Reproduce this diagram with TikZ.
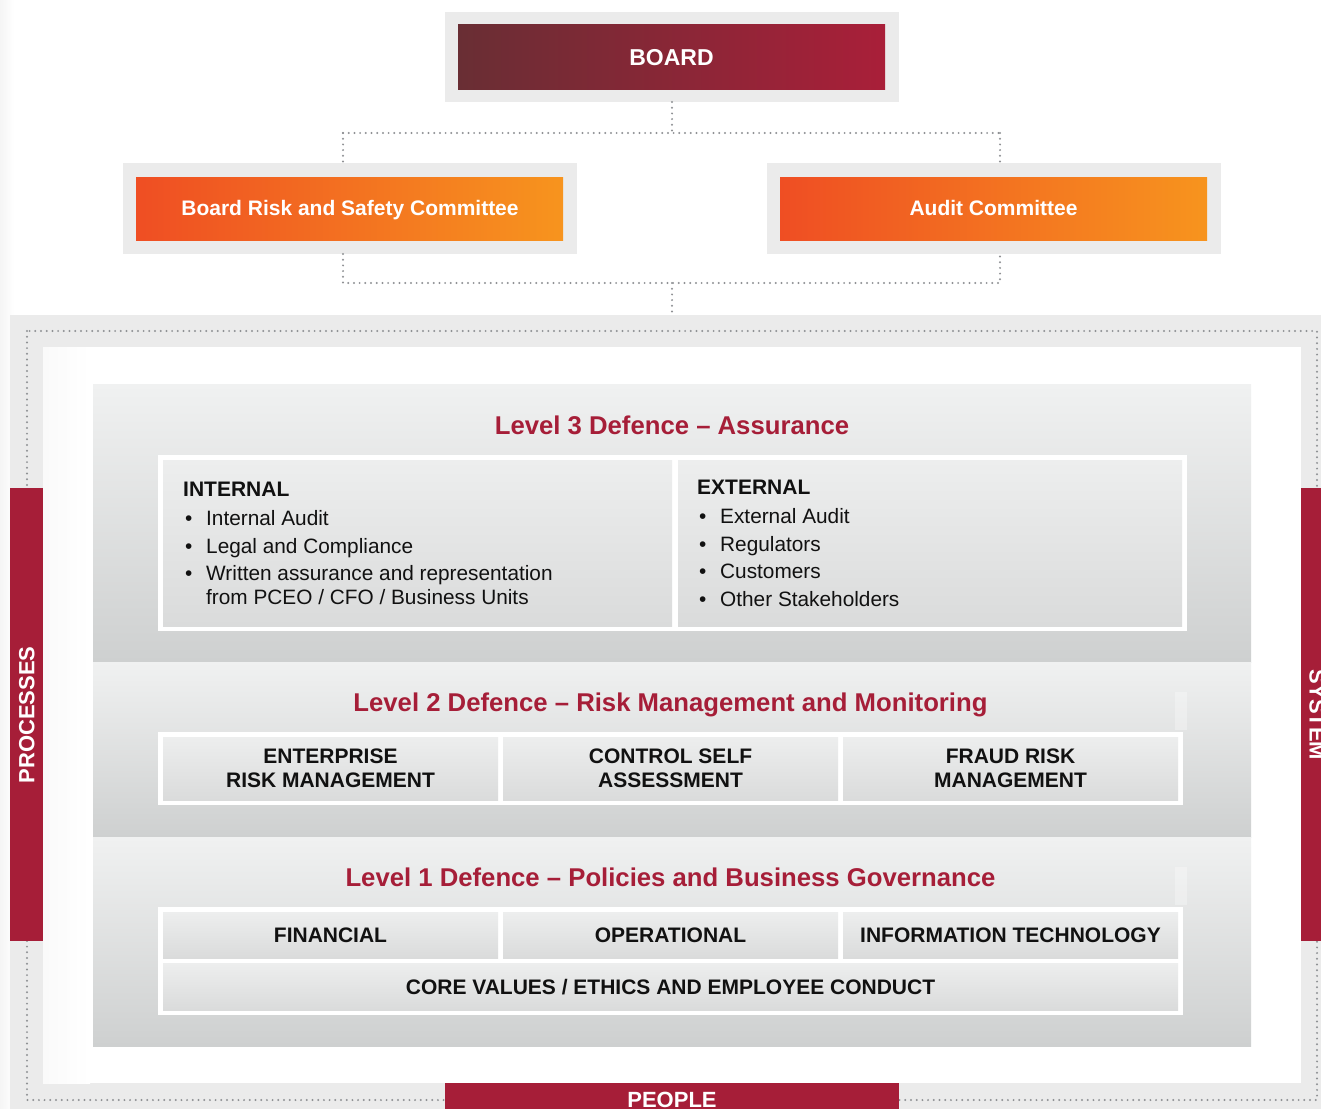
\documentclass[tikz,border=0pt]{standalone}
\usepackage{fontspec}
\setmainfont{Liberation Sans}
\definecolor{frameg}{HTML}{EBEBEB}
\definecolor{dotc}{HTML}{8F9194}
\definecolor{crim}{HTML}{A61E38}
\definecolor{bdark}{HTML}{692E34}
\definecolor{bred}{HTML}{A91F39}
\definecolor{oleft}{HTML}{EF4E23}
\definecolor{oright}{HTML}{F7941E}
\definecolor{ptop}{HTML}{F0F1F1}
\definecolor{pbot}{HTML}{CED0D0}
\definecolor{ctop}{HTML}{EDEEEE}
\definecolor{cbot}{HTML}{DADBDB}
\definecolor{txt}{HTML}{111111}
\newcommand\bul[1]{\makebox[23pt][l]{\hspace{2pt}\textbullet}#1}
\newcommand\nobul[1]{\hspace*{23pt}#1}
\begin{document}
\begin{tikzpicture}[x=1pt,y=-1pt,
  rbox/.style={rectangle, inner sep=0pt, outer sep=0pt, draw=none},
  dots/.style={draw=dotc, line width=2.2pt, dash pattern=on 0pt off 5.7pt, line cap=round},
  ttl/.style={text=crim, font=\fontsize{25.7}{30}\selectfont\bfseries, anchor=base, inner sep=0pt},
  hdr/.style={text=txt, font=\fontsize{21}{24}\selectfont\bfseries, anchor=base, inner sep=0pt},
  hdrw/.style={text=txt, font=\fontsize{21}{24}\selectfont\bfseries, anchor=base west, inner sep=0pt},
  body/.style={text=txt, font=\fontsize{20.8}{24}\selectfont, anchor=base west, inner sep=0pt},
  wtxt/.style={text=white, font=\fontsize{21}{24}\selectfont\bfseries, anchor=base, inner sep=0pt},
  cell/.style={rbox, top color=ctop, bottom color=cbot},
  panel/.style={rbox, top color=ptop, bottom color=pbot},
  redbar/.style={rbox, fill=crim}
]
\useasboundingbox (0,0) rectangle (1321,1108);
\clip (0,0) rectangle (1321,1108);
\fill[white] (0,0) rectangle (1321,1108);
\shade[left color=black!4, right color=white] (0,0) rectangle (14,1108);

% ---------- top boxes ----------
\node[rbox, fill=frameg, minimum width=454pt, minimum height=90pt] (boardbg) at (672,57) {};
\node[rbox, left color=bdark, right color=bred, minimum width=427pt, minimum height=64pt] (board) at (671.5,57) {};
\node[wtxt, font=\fontsize{23}{26}\selectfont\bfseries] (boardt) at (671.5,66) {BOARD};

\node[rbox, fill=frameg, minimum width=454pt, minimum height=91pt] (brsbg) at (350,208.5) {};
\node[rbox, left color=oleft, right color=oright, minimum width=427pt, minimum height=63pt] (brs) at (349.5,208.5) {};
\node[wtxt] (brst) at (350,215.5) {Board Risk and Safety Committee};

\node[rbox, fill=frameg, minimum width=454pt, minimum height=91pt] (acbg) at (994,208.5) {};
\node[rbox, left color=oleft, right color=oright, minimum width=427pt, minimum height=63pt] (ac) at (993.5,208.5) {};
\node[wtxt] (act) at (993.5,215.5) {Audit Committee};

% ---------- big frame ----------
\node[rbox, fill=frameg, minimum width=1330pt, minimum height=805pt] (frame) at (675,717.5) {};
\node[rbox, fill=white, minimum width=1258pt, minimum height=736pt] (inner) at (672,715) {};
\shade[left color=black!2, right color=white] (43,347) rectangle (90,1083);

% ---------- connectors ----------
\coordinate (jt) at (672,133);
\coordinate (jtl) at (343,133);
\coordinate (jtr) at (1000,133);
\coordinate (jb) at (672,283);
\coordinate (jbl) at (343,283);
\coordinate (jbr) at (1000,283);
\draw[dots] (boardbg.south) -- (jt);
\draw[dots] (jtl) -- (jtr);
\draw[dots] (jtl) -- (jtl |- brsbg.north);
\draw[dots] (jtr) -- (jtr |- acbg.north);
\draw[dots] (jbl |- brsbg.south) -- (jbl) -- (jbr) -- (jbr |- acbg.south);
\draw[dots] (jb) -- (jb |- frame.north);

\draw[dots] (27,331) rectangle (1317,1100);

% ---------- side bars ----------
\node[redbar, minimum width=33pt, minimum height=453pt] (procbar) at (26.5,714.5) {};
\node[redbar, minimum width=33pt, minimum height=453pt] (sysbar) at (1317.5,714.5) {};
\node[redbar, minimum width=454pt, minimum height=33pt] (peopbar) at (672,1099.5) {};
\node[wtxt, font=\fontsize{22}{24}\selectfont\bfseries, rotate=90] (proct) at (34.4,715) {PROCESSES};
\node[wtxt, font=\fontsize{22}{24}\selectfont\bfseries, rotate=-90] (syst) at (1309.6,715) {SYSTEM};
\node[wtxt, font=\fontsize{22}{24}\selectfont\bfseries] (peopt) at (672,1107.4) {PEOPLE};

% ---------- level panels ----------
\node[panel, minimum width=1158pt, minimum height=278pt] (l3) at (672,523) {};
\node[panel, minimum width=1158pt, minimum height=175pt] (l2) at (672,749.5) {};
\node[panel, minimum width=1158pt, minimum height=209pt] (l1) at (672,941.5) {};
\fill[white, opacity=0.3] (1175,692) rectangle (1187,730);
\fill[white, opacity=0.3] (1175,867) rectangle (1187,905);

\node[ttl] (l3t) at (672,434) {Level 3 Defence -- Assurance};
\node[ttl] (l2t) at (670.5,711) {Level 2 Defence -- Risk Management and Monitoring};
\node[ttl] (l1t) at (670.5,886) {Level 1 Defence -- Policies and Business Governance};

% Level 3 table
\node[rbox, fill=white, minimum width=1029pt, minimum height=176pt] (l3f) at (672.5,543) {};
\node[cell, minimum width=509pt, minimum height=166pt] (intc) at (417.5,543) {};
\node[cell, minimum width=504pt, minimum height=166pt] (extc) at (930,543) {};

\node[hdrw] (inth) at (183,496.5) {INTERNAL};
\node[body] (int1) at (183,525) {\bul{Internal Audit}};
\node[body] (int2) at (183,553) {\bul{Legal and Compliance}};
\node[body] (int3) at (183,580) {\bul{Written assurance and representation}};
\node[body] (int4) at (183,604) {\nobul{from PCEO / CFO / Business Units}};

\node[hdrw] (exth) at (697,494.5) {EXTERNAL};
\node[body] (ext1) at (697,523) {\bul{External Audit}};
\node[body] (ext2) at (697,551) {\bul{Regulators}};
\node[body] (ext3) at (697,578) {\bul{Customers}};
\node[body] (ext4) at (697,606) {\bul{Other Stakeholders}};

% Level 2 table
\node[rbox, fill=white, minimum width=1025pt, minimum height=73pt] (l2f) at (670.5,768.5) {};
\node[cell, minimum width=335pt, minimum height=63pt] (erm) at (330.5,768.5) {};
\node[cell, minimum width=335pt, minimum height=63pt] (csa) at (670.5,768.5) {};
\node[cell, minimum width=335pt, minimum height=63pt] (frm) at (1010.5,768.5) {};
\node[hdr] (erm1) at (330.5,763.5) {ENTERPRISE};
\node[hdr] (erm2) at (330.5,787.5) {RISK MANAGEMENT};
\node[hdr] (csa1) at (670.5,763.5) {CONTROL SELF};
\node[hdr] (csa2) at (670.5,787.5) {ASSESSMENT};
\node[hdr] (frm1) at (1010.5,763.5) {FRAUD RISK};
\node[hdr] (frm2) at (1010.5,787.5) {MANAGEMENT};

% Level 1 table
\node[rbox, fill=white, minimum width=1025pt, minimum height=108pt] (l1f) at (670.5,961) {};
\node[cell, minimum width=335pt, minimum height=46pt] (fin) at (330.5,935) {};
\node[cell, minimum width=335pt, minimum height=46pt] (ops) at (670.5,935) {};
\node[cell, minimum width=335pt, minimum height=46pt] (itc) at (1010.5,935) {};
\node[cell, minimum width=1015pt, minimum height=47pt] (core) at (670.5,986.5) {};
\node[hdr] (fint) at (330.5,942.5) {FINANCIAL};
\node[hdr] (opst) at (670.5,942.5) {OPERATIONAL};
\node[hdr] (itct) at (1010.5,942.5) {INFORMATION TECHNOLOGY};
\node[hdr] (coret) at (670.5,994.5) {CORE VALUES / ETHICS AND EMPLOYEE CONDUCT};
\end{tikzpicture}
\end{document}
